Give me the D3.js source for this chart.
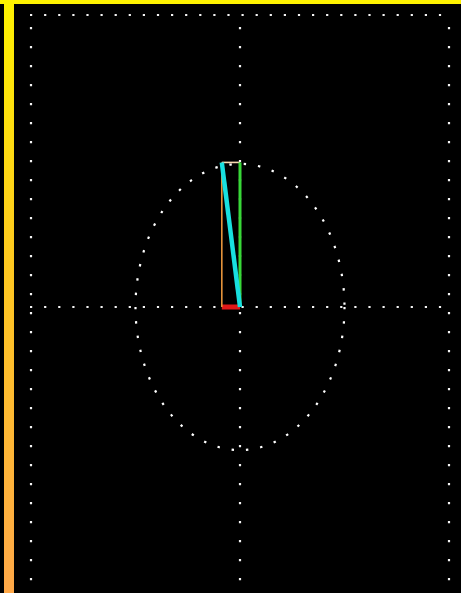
<!DOCTYPE html>
<html>
<head>
<meta charset="utf-8">
<script src="https://cdn.jsdelivr.net/npm/d3@7"></script>
<style>
html,body{margin:0;padding:0;background:#000;overflow:hidden;}
svg{display:block;}
</style>
</head>
<body>
<svg id="chart" width="461" height="593"></svg>
<script>
// ---- data ----
const xGridValues = [-1, 0, 1];
const yGridValues = [1.02, 0, -1.02];
const circleRadius = [0.5];
const phasorTip = [-0.087, 0.505];          // resultant vector (x, y)
const vectorNames = ["resultant", "imag", "realComp", "imagComp", "topLink"];

const W = 461, H = 593;
const svg = d3.select("#chart");

const x = d3.scaleLinear().domain([-1, 1]).range([31, 449]);
const y = d3.scaleLinear().domain([-1.02, 1.02]).range([599, 15]);

svg.append("rect").attr("width", W).attr("height", H).attr("fill", "#000");

// left gradient strip + top bar
const defs = svg.append("defs");
const grad = defs.append("linearGradient").attr("id", "strip")
  .attr("x1", 0).attr("y1", 0).attr("x2", 0).attr("y2", 1);
grad.append("stop").attr("offset", "0%").attr("stop-color", "#fff200");
grad.append("stop").attr("offset", "45%").attr("stop-color", "#ffc820");
grad.append("stop").attr("offset", "100%").attr("stop-color", "#ffa848");
svg.append("rect").attr("x", 4).attr("y", 0).attr("width", 10).attr("height", H).attr("fill", "url(#strip)");
svg.append("rect").attr("x", 0).attr("y", 0).attr("width", W).attr("height", 4).attr("fill", "#fff200");

// grid
const grid = svg.append("g");
grid.selectAll("line.v").data(xGridValues).join("line")
  .attr("x1", d => x(d)).attr("x2", d => x(d))
  .attr("y1", y(1.02) + 12).attr("y2", y(-1.02))
  .attr("stroke", "#f4f4f4").attr("stroke-width", 2.2)
  .attr("stroke-dasharray", "2.2,16.8");
grid.selectAll("line.h").data(yGridValues).join("line")
  .attr("x1", x(-1) - 1).attr("x2", x(1) + 1)
  .attr("y1", d => y(d)).attr("y2", d => y(d))
  .attr("stroke", "#f4f4f4").attr("stroke-width", 2.2)
  .attr("stroke-dasharray", "2.2,11.9");

// dotted circle (ellipse in screen space)
svg.selectAll("ellipse.c").data(circleRadius).join("ellipse")
  .attr("cx", x(0)).attr("cy", y(0))
  .attr("rx", d => x(d) - x(0)).attr("ry", d => y(0) - y(d))
  .attr("fill", "none").attr("stroke", "#ffffff").attr("stroke-width", 2.2)
  .attr("stroke-dasharray", "2.4,12");

// phasor vectors
const [px, py] = phasorTip;
const segs = [
  {name: vectorNames[2], x1: 0, y1: 0, x2: px, y2: 0, color: "#e01818", w: 5},
  {name: vectorNames[3], x1: px, y1: 0, x2: px, y2: py, color: "#e8963c", w: 1.6},
  {name: vectorNames[4], x1: px, y1: py, x2: 0, y2: py, color: "#f8d8b0", w: 1.6},
  {name: vectorNames[1], x1: 0, y1: 0, x2: 0, y2: py, color: "#38d838", w: 3},
  {name: vectorNames[0], x1: 0, y1: 0, x2: px, y2: py, color: "#18e0e0", w: 4.5}
];
svg.selectAll("line.vec").data(segs).join("line")
  .attr("x1", d => x(d.x1)).attr("y1", d => y(d.y1))
  .attr("x2", d => x(d.x2)).attr("y2", d => y(d.y2))
  .attr("stroke", d => d.color).attr("stroke-width", d => d.w)
  .attr("stroke-linecap", "butt");
</script>
</body>
</html>
